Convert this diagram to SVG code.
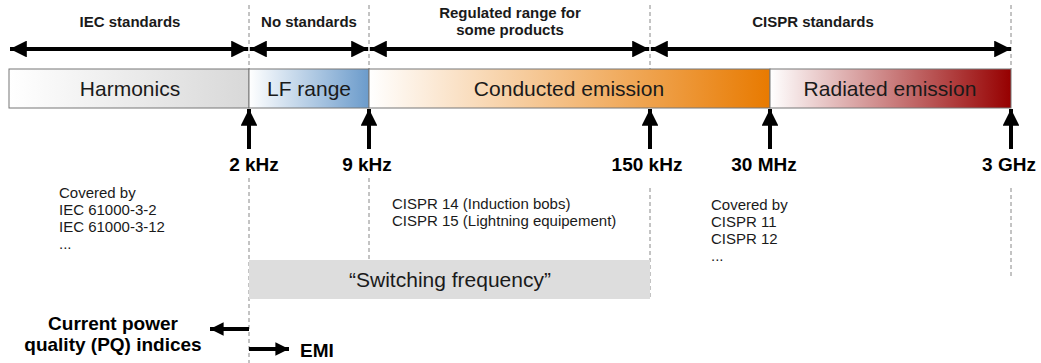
<svg xmlns="http://www.w3.org/2000/svg" width="1041" height="363" viewBox="0 0 1041 363">
<style>
.hdr{font-family:"Liberation Sans",Arial,sans-serif;font-weight:bold;font-size:15px;fill:#1a1a1a;text-anchor:middle}
.seg{font-family:"Liberation Sans",Arial,sans-serif;font-size:21px;fill:#1a1a1a;text-anchor:middle}
.freq{font-family:"Liberation Sans",Arial,sans-serif;font-weight:bold;font-size:19px;fill:#000;text-anchor:middle}
.note{font-family:"Liberation Sans",Arial,sans-serif;font-size:15px;fill:#1a1a1a}
.dash{stroke:#888;stroke-width:1;stroke-dasharray:4,3;fill:none}
.arr{stroke:#000;stroke-width:4;fill:none}
</style>
<defs>
<marker id="ah" viewBox="0 0 10 10" refX="10" refY="5" markerWidth="4.2" markerHeight="4.2" orient="auto-start-reverse" markerUnits="strokeWidth">
<path d="M0,0 L10,5 L0,10 Z" fill="#000"/>
</marker>
<marker id="ahs" viewBox="0 0 10 10" refX="10" refY="5" markerWidth="3.4" markerHeight="3.4" orient="auto" markerUnits="strokeWidth">
<path d="M0,0 L10,5 L0,10 Z" fill="#000"/>
</marker>
<linearGradient id="gH" x1="0" x2="1"><stop offset="0" stop-color="#fff"/><stop offset="1" stop-color="#d8d8d8"/></linearGradient>
<linearGradient id="gL" x1="0" x2="1"><stop offset="0" stop-color="#fff"/><stop offset="1" stop-color="#6b9bcb"/></linearGradient>
<linearGradient id="gC" x1="0" x2="1"><stop offset="0" stop-color="#fff"/><stop offset="1" stop-color="#e87a00"/></linearGradient>
<linearGradient id="gR" x1="0" x2="1"><stop offset="0" stop-color="#fff"/><stop offset="1" stop-color="#960000"/></linearGradient>
</defs>

<g id="guides">
<line class="dash" x1="249" y1="5" x2="249" y2="69"/>
<line class="dash" x1="249" y1="178" x2="249" y2="363"/>
<line class="dash" x1="369" y1="5" x2="369" y2="69"/>
<line class="dash" x1="369" y1="178" x2="369" y2="260"/>
<line class="dash" x1="650" y1="5" x2="650" y2="69"/>
<line class="dash" x1="650" y1="188" x2="650" y2="300"/>
<line class="dash" x1="1011" y1="5" x2="1011" y2="69"/>
<line class="dash" x1="1011" y1="188" x2="1011" y2="276"/>
</g>

<g id="headers">
<text class="hdr" x="130" y="27">IEC standards</text>
<text class="hdr" x="309" y="27">No standards</text>
<text class="hdr" x="510" y="18">Regulated range for</text>
<text class="hdr" x="510" y="35">some products</text>
<text class="hdr" x="813" y="27">CISPR standards</text>
</g>

<g id="node-harmonics">
<rect x="9" y="69" width="240" height="39" fill="url(#gH)" stroke="#777" stroke-width="1"/>
<text class="seg" x="130" y="96">Harmonics</text>
</g>
<g id="node-lf">
<rect x="249" y="69" width="120" height="39" fill="url(#gL)" stroke="#777" stroke-width="1"/>
<text class="seg" x="309" y="96">LF range</text>
</g>
<g id="node-conducted">
<rect x="369" y="69" width="401" height="39" fill="url(#gC)" stroke="#777" stroke-width="1"/>
<text class="seg" x="569" y="96">Conducted emission</text>
</g>
<g id="node-radiated">
<rect x="770" y="69" width="241" height="39" fill="url(#gR)" stroke="#777" stroke-width="1"/>
<text class="seg" x="890" y="96">Radiated emission</text>
</g>

<g id="connectors">
<line class="arr" x1="10" y1="49" x2="248" y2="49" marker-start="url(#ah)" marker-end="url(#ah)"/>
<line class="arr" x1="250" y1="49" x2="368" y2="49" marker-start="url(#ah)" marker-end="url(#ah)"/>
<line class="arr" x1="370" y1="49" x2="649" y2="49" marker-start="url(#ah)" marker-end="url(#ah)"/>
<line class="arr" x1="651" y1="49" x2="1011" y2="49" marker-start="url(#ah)" marker-end="url(#ah)"/>
<line class="arr" x1="249" y1="149" x2="249" y2="109" marker-end="url(#ah)"/>
<line class="arr" x1="369" y1="149" x2="369" y2="109" marker-end="url(#ah)"/>
<line class="arr" x1="650" y1="149" x2="650" y2="109" marker-end="url(#ah)"/>
<line class="arr" x1="770" y1="149" x2="770" y2="109" marker-end="url(#ah)"/>
<line class="arr" x1="1011" y1="149" x2="1011" y2="109" marker-end="url(#ah)"/>
<line class="arr" x1="249" y1="329" x2="210" y2="329" marker-end="url(#ahs)"/>
<line class="arr" x1="249" y1="349" x2="289" y2="349" marker-end="url(#ahs)"/>
</g>

<g id="freqs">
<text class="freq" x="254" y="171">2 kHz</text>
<text class="freq" x="367" y="171">9 kHz</text>
<text class="freq" x="647" y="171">150 kHz</text>
<text class="freq" x="764" y="171">30 MHz</text>
<text class="freq" x="1009" y="171">3 GHz</text>
</g>

<g id="note-iec">
<text class="note" x="59" y="198">Covered by</text>
<text class="note" x="59" y="215">IEC 61000-3-2</text>
<text class="note" x="59" y="232">IEC 61000-3-12</text>
<text class="note" x="59" y="249">...</text>
</g>
<g id="note-cispr14">
<text class="note" x="392" y="209">CISPR 14 (Induction bobs)</text>
<text class="note" x="392" y="226">CISPR 15 (Lightning equipement)</text>
</g>
<g id="note-cispr">
<text class="note" x="711" y="210">Covered by</text>
<text class="note" x="711" y="227">CISPR 11</text>
<text class="note" x="711" y="244">CISPR 12</text>
<text class="note" x="711" y="261">...</text>
</g>

<g id="node-switching">
<rect x="249" y="260" width="401" height="39" fill="#dddddd"/>
<text class="seg" x="450" y="287">“Switching frequency”</text>
</g>

<g id="node-pq">
<text class="freq" x="113" y="330">Current power</text>
<text class="freq" x="113" y="351">quality (PQ) indices</text>
</g>
<g id="node-emi">
<text class="freq" x="300" y="357" style="text-anchor:start">EMI</text>
</g>
</svg>
